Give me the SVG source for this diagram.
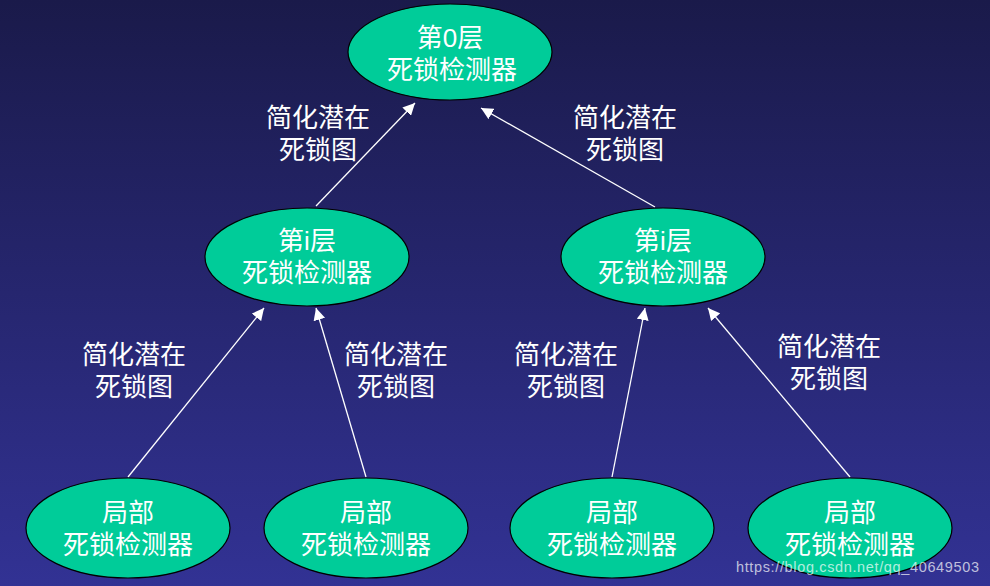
<svg xmlns="http://www.w3.org/2000/svg" width="990" height="586" viewBox="0 0 990 586">
<defs>
<linearGradient id="bg" x1="0" y1="0" x2="0" y2="1">
<stop offset="0" stop-color="#1a1a4a"/>
<stop offset="1" stop-color="#323294"/>
</linearGradient>
<marker id="ah" viewBox="0 0 10 10" refX="10" refY="5" markerWidth="12" markerHeight="12" markerUnits="userSpaceOnUse" orient="auto">
<path d="M0,0 L10,5 L0,10 z" fill="#ffffff"/>
</marker>
</defs>
<style>
.n{fill:#00cc99;stroke:#000;stroke-width:1.2}
.t{font-family:"Liberation Sans","Noto Sans CJK SC",sans-serif;font-size:26px;fill:#fff;text-anchor:middle}
.c{stroke:#fff;stroke-width:1.3;fill:none;marker-end:url(#ah)}
</style>
<rect width="990" height="586" fill="url(#bg)"/>
<g id="connectors">
<line class="c" x1="316" y1="206" x2="415" y2="103"/>
<line class="c" x1="655" y1="207" x2="481" y2="108"/>
<line class="c" x1="128" y1="477" x2="264" y2="308"/>
<line class="c" x1="366" y1="477" x2="316" y2="308"/>
<line class="c" x1="612" y1="477" x2="645" y2="308"/>
<line class="c" x1="850" y1="477" x2="708" y2="308"/>
</g>
<g id="labels">
<text class="t" x="318" y="127">简化潜在</text><text class="t" x="318" y="159">死锁图</text>
<text class="t" x="625" y="127">简化潜在</text><text class="t" x="625" y="159">死锁图</text>
<text class="t" x="134" y="364">简化潜在</text><text class="t" x="134" y="396">死锁图</text>
<text class="t" x="396" y="364">简化潜在</text><text class="t" x="396" y="396">死锁图</text>
<text class="t" x="566" y="364">简化潜在</text><text class="t" x="566" y="396">死锁图</text>
<text class="t" x="829" y="356">简化潜在</text><text class="t" x="829" y="388">死锁图</text>
</g>
<g id="n0"><ellipse class="n" cx="450" cy="52" rx="102" ry="48"/><text class="t" x="450" y="47">第0层</text><text class="t" x="452" y="79">死锁检测器</text></g>
<g id="n1"><ellipse class="n" cx="307" cy="257" rx="102" ry="49"/><text class="t" x="307" y="250">第i层</text><text class="t" x="307" y="282">死锁检测器</text></g>
<g id="n2"><ellipse class="n" cx="663" cy="257" rx="102" ry="49"/><text class="t" x="663" y="250">第i层</text><text class="t" x="663" y="282">死锁检测器</text></g>
<g id="n3"><ellipse class="n" cx="128" cy="528" rx="102" ry="50"/><text class="t" x="128" y="522">局部</text><text class="t" x="128" y="554">死锁检测器</text></g>
<g id="n4"><ellipse class="n" cx="366" cy="528" rx="102" ry="50"/><text class="t" x="366" y="522">局部</text><text class="t" x="366" y="554">死锁检测器</text></g>
<g id="n5"><ellipse class="n" cx="612" cy="528" rx="102" ry="50"/><text class="t" x="612" y="522">局部</text><text class="t" x="612" y="554">死锁检测器</text></g>
<g id="n6"><ellipse class="n" cx="850" cy="528" rx="102" ry="50"/><text class="t" x="850" y="522">局部</text><text class="t" x="850" y="554">死锁检测器</text></g>
<text x="736" y="572" font-family="Liberation Sans, Arial, sans-serif" font-size="14.5" fill="#ffffff" fill-opacity="0.7" textLength="243">https://blog.csdn.net/qq_40649503</text>
</svg>
